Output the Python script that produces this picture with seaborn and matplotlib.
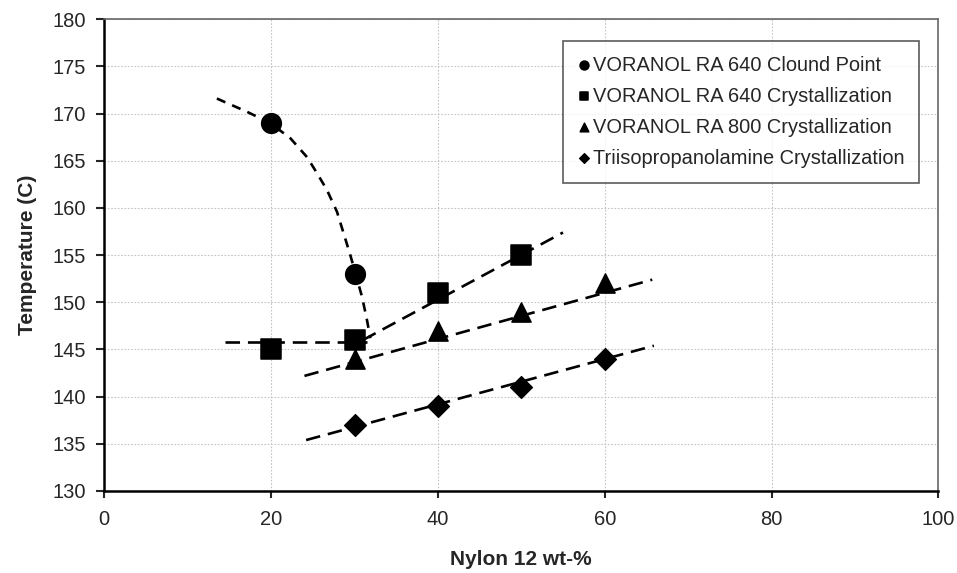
import numpy as np
import pandas as pd
import matplotlib
matplotlib.use("Agg")
import matplotlib.pyplot as plt
import seaborn as sns

# Measured points
cloud_x = [20, 30]
cloud_y = [169, 153]
ra640_x = [20, 30, 40, 50]
ra640_y = [145, 146, 151, 155]
ra800_x = [30, 40, 50, 60]
ra800_y = [144, 147, 149, 152]
tipa_x = [30, 40, 50, 60]
tipa_y = [137, 139, 141, 144]

labels = ["VORANOL RA 640 Clound Point",
          "VORANOL RA 640 Crystallization",
          "VORANOL RA 800 Crystallization",
          "Triisopropanolamine Crystallization"]

# Guide lines drawn by hand in the original
cloud_trace_x = [13.5, 17.1, 19.9, 22.3, 24.3, 25.5, 26.7, 27.9, 28.7,
                 29.5, 30.1, 30.9, 31.5, 31.9]
cloud_trace_y = [171.6, 170.2, 169.0, 167.4, 165.4, 163.7, 161.9, 159.6,
                 157.3, 155.0, 153.1, 150.6, 148.1, 146.2]
ra640_flat_x = [14.5, 31.5]
ra640_flat_y = [145.8, 145.8]
ra640_rise_x = [31.0, 55.0]
ra640_rise_y = [146.0, 157.4]
ra800_line_x = [24.0, 65.7]
ra800_line_y = [142.2, 152.4]
tipa_line_x = [24.2, 65.9]
tipa_line_y = [135.4, 145.4]

sns.set_style("white")
plt.rcParams['font.family'] = ['Liberation Sans', 'DejaVu Sans']

fig = plt.figure(figsize=(9.57, 5.73), dpi=100)
ax = fig.add_axes([104.3 / 957, 1 - 491 / 573, (938.3 - 104.3) / 957, (491 - 19.3) / 573])

# hand-drawn cloud point guide curve
sns.lineplot(x=cloud_trace_x, y=cloud_trace_y, ax=ax, color='black', lw=1.9,
             linestyle=(0, (3.5, 2.8)), sort=False, estimator=None, zorder=3)

dash = (0, (5.5, 3))
for lx, ly in [(ra640_flat_x, ra640_flat_y), (ra640_rise_x, ra640_rise_y),
               (ra800_line_x, ra800_line_y), (tipa_line_x, tipa_line_y)]:
    sns.lineplot(x=lx, y=ly, ax=ax, color='black', lw=1.9, linestyle=dash,
                 sort=False, estimator=None, zorder=3)

series = [(cloud_x, cloud_y, 'o', 200), (ra640_x, ra640_y, 's', 190),
          (ra800_x, ra800_y, '^', 190), (tipa_x, tipa_y, 'D', 125)]
for (sx, sy, m, s), lab in zip(series, labels):
    sns.scatterplot(x=sx, y=sy, ax=ax, marker=m, s=s, color='black',
                    edgecolor='black', label=lab, zorder=4)

ax.set_xlim(0, 100)
ax.set_ylim(130, 180)
ax.set_xticks(np.arange(0, 101, 20))
ax.set_yticks(np.arange(130, 181, 5))
ax.grid(True, color='#c4c4c4', linestyle=(0, (1.5, 1.5)), lw=0.8)
ax.tick_params(axis='y', direction='out', length=6, width=1.5, pad=7, labelsize=14.5, left=True)
ax.tick_params(axis='x', direction='out', length=5, width=1.5, pad=9, labelsize=14.5, bottom=True)

for side in ['left', 'bottom']:
    ax.spines[side].set_color('black')
    ax.spines[side].set_linewidth(1.8)
for side in ['top', 'right']:
    ax.spines[side].set_color('#666666')
    ax.spines[side].set_linewidth(1.2)

ax.set_xlabel("Nylon 12 wt-%", fontsize=15, fontweight='bold', labelpad=15)
ax.set_ylabel("Temperature (C)", fontsize=15, fontweight='bold', labelpad=11)

leg = ax.legend(loc='upper right', bbox_to_anchor=(919.3 / 957, 1 - 40.7 / 573),
                bbox_transform=fig.transFigure, fontsize=14.4, frameon=True,
                fancybox=False, edgecolor='#333333', markerscale=0.45,
                handlelength=0.6, handletextpad=0.15, labelspacing=0.6,
                borderpad=0.75, borderaxespad=0)
leg.get_frame().set_linewidth(1.2)

fig.savefig("out.png", dpi=100)
